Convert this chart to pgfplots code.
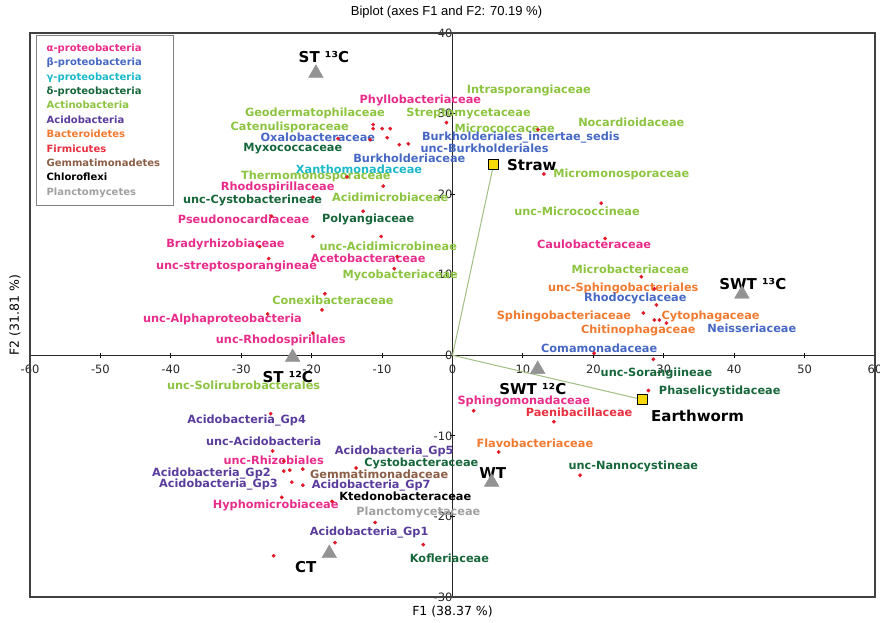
\documentclass[border=0pt]{standalone}
\usepackage{pgfplots}
\pgfplotsset{compat=1.18}
\usepackage{pgfplotstable}
\usepackage{fontspec}
\setmainfont{DejaVu Sans}
\newfontfamily\titlefont{Liberation Sans}
\definecolor{alphac}{RGB}{232,44,138}
\definecolor{betac}{RGB}{70,104,196}
\definecolor{gammac}{RGB}{28,184,200}
\definecolor{deltac}{RGB}{22,102,58}
\definecolor{actinoc}{RGB}{140,196,64}
\definecolor{acidoc}{RGB}{90,60,156}
\definecolor{bacteroc}{RGB}{242,122,48}
\definecolor{firmic}{RGB}{232,48,64}
\definecolor{gemmac}{RGB}{139,94,70}
\definecolor{planctoc}{RGB}{160,160,160}
\definecolor{dotred}{RGB}{225,25,40}
\definecolor{sqyellow}{RGB}{245,215,10}
\definecolor{linegreen}{RGB}{160,190,130}

\pgfplotstableread{
x y
-11.27 28.63
-11.27 28.13
-9.99 28.13
-8.84 28.13
-9.27 27.0
-16.26 26.88
-11.70 26.75
-7.56 26.13
-6.28 26.25
-0.86 28.88
12.13 28.0
-9.84 21.0
-14.98 22.13
-19.83 19.63
-12.70 17.88
-25.68 17.25
-10.13 14.75
-19.83 14.75
-7.85 12.25
-8.27 10.75
-26.11 12.0
-27.39 13.5
-18.12 7.63
-18.54 5.63
-26.25 5.13
-19.83 2.75
12.98 22.5
21.11 18.88
21.68 14.5
26.82 9.75
28.67 8.25
28.96 6.25
27.10 5.25
28.67 4.38
29.39 4.38
30.38 4.0
20.11 0.25
28.53 -0.5
27.82 -4.38
3.0 -6.88
14.41 -8.25
6.56 -12.0
18.12 -14.88
-25.82 -7.25
-25.53 -11.88
-23.97 -13.13
-23.97 -14.38
-23.11 -14.25
-21.26 -14.13
-13.69 -14.0
-22.82 -15.75
-21.26 -16.13
-24.25 -17.63
-17.12 -18.13
-10.98 -20.75
-16.69 -23.25
-4.14 -23.5
-25.39 -24.88
}\taxadots

\pgfplotstableread{
x y
-19.4 35.0
-22.7 -0.25
41.1 7.6
12.1 -1.75
5.56 -15.75
-17.5 -24.6
}\samples

\pgfplotstableread{
x y
5.85 23.75
26.96 -5.5
}\variables

\newcommand{\labfont}{\bfseries\fontsize{11.3}{12}\selectfont}
\newcommand{\smpfont}{\bfseries\fontsize{15}{16}\selectfont}
\newcommand{\lab}[4]{\node[text=#1, font=\labfont, inner sep=0pt] at (axis cs:#2,#3) {#4};}
\newcommand{\smp}[3]{\node[text=black, font=\smpfont, inner sep=0pt] at (axis cs:#1,#2) {#3};}

\begin{document}
\begin{tikzpicture}
\begin{axis}[
  scale only axis, width=845pt, height=564pt,
  xmin=-60, xmax=60, ymin=-30, ymax=40,
  axis lines=center,
  axis line style={-, line width=1.3pt, black!85},
  xtick={-60,-50,...,60}, ytick={-30,-20,...,40},
  hide obscured x ticks=false, hide obscured y ticks=false,
  tick align=center, major tick length=5pt,
  tick style={black, line width=0.9pt},
  tick label style={font=\fontsize{11.5}{13}\selectfont, text=black!85},
  /pgf/number format/assume math mode=true,
  xticklabel style={anchor=north, yshift=-4pt},
  yticklabel style={anchor=east, xshift=6pt},
  clip=false,
]
\coordinate (SW) at (rel axis cs:0,0);
\coordinate (NE) at (rel axis cs:1,1);
\draw[line width=1.3pt, black!75] (rel axis cs:0,0) rectangle (rel axis cs:1,1);

\addplot[color=linegreen, line width=1pt] coordinates {(0,0) (5.85,23.75)};
\addplot[color=linegreen, line width=1pt] coordinates {(0,0) (26.96,-5.5)};

\addplot[only marks, mark=*, mark size=1.7pt, color=dotred] table[x=x,y=y]{\taxadots};
\addplot[only marks, mark=triangle*, mark size=8.5pt, color=gray!85] table[x=x,y=y]{\samples};
\addplot[only marks, mark=square*, mark size=5pt, draw=black, fill=sqyellow, mark options={line width=0.8pt}] table[x=x,y=y]{\variables};

% taxa labels
\lab{alphac}{-4.56}{31.63}{Phyllobacteriaceae}
\lab{actinoc}{-19.54}{30.0}{Geodermatophilaceae}
\lab{actinoc}{2.28}{30.0}{Streptomycetaceae}
\lab{actinoc}{-23.11}{28.25}{Catenulisporaceae}
\lab{actinoc}{7.42}{28.13}{Micrococcaceae}
\lab{betac}{-19.12}{27.0}{Oxalobacteraceae}
\lab{betac}{9.70}{27.0}{Burkholderiales\_incertae\_sedis}
\lab{deltac}{-22.68}{25.63}{Myxococcaceae}
\lab{betac}{4.56}{25.75}{unc-Burkholderiales}
\lab{betac}{-6.13}{24.5}{Burkholderiaceae}
\lab{gammac}{-13.27}{23.13}{Xanthomonadaceae}
\lab{actinoc}{-19.40}{22.25}{Thermomonosporaceae}
\lab{alphac}{-24.82}{20.88}{Rhodospirillaceae}
\lab{deltac}{-28.39}{19.25}{unc-Cystobacterineae}
\lab{actinoc}{-8.84}{19.63}{Acidimicrobiaceae}
\lab{alphac}{-29.67}{16.88}{Pseudonocardiaceae}
\lab{deltac}{-11.98}{16.88}{Polyangiaceae}
\lab{alphac}{-32.24}{13.75}{Bradyrhizobiaceae}
\lab{actinoc}{-9.13}{13.5}{unc-Acidimicrobineae}
\lab{alphac}{-11.98}{12.0}{Acetobacteraceae}
\lab{alphac}{-30.67}{11.0}{unc-streptosporangineae}
\lab{actinoc}{-7.42}{9.88}{Mycobacteriaceae}
\lab{actinoc}{-16.98}{6.88}{Conexibacteraceae}
\lab{alphac}{-32.67}{4.5}{unc-Alphaproteobacteria}
\lab{alphac}{-24.39}{1.88}{unc-Rhodospirillales}
\lab{actinoc}{-29.67}{-3.75}{unc-Solirubrobacterales}
\lab{actinoc}{10.84}{32.88}{Intrasporangiaceae}
\lab{actinoc}{25.39}{28.88}{Nocardioidaceae}
\lab{actinoc}{23.97}{22.5}{Micromonosporaceae}
\lab{actinoc}{17.69}{17.88}{unc-Micrococcineae}
\lab{alphac}{20.11}{13.75}{Caulobacteraceae}
\lab{actinoc}{25.25}{10.63}{Microbacteriaceae}
\lab{bacteroc}{24.25}{8.25}{unc-Sphingobacteriales}
\lab{betac}{25.96}{7.0}{Rhodocyclaceae}
\lab{bacteroc}{15.83}{4.88}{Sphingobacteriaceae}
\lab{bacteroc}{36.66}{4.88}{Cytophagaceae}
\lab{bacteroc}{26.39}{3.13}{Chitinophagaceae}
\lab{betac}{42.51}{3.38}{Neisseriaceae}
\lab{betac}{20.83}{0.88}{Comamonadaceae}
\lab{deltac}{28.96}{-2.25}{unc-Sorangiineae}
\lab{deltac}{37.95}{-4.5}{Phaselicystidaceae}
\lab{alphac}{10.13}{-5.75}{Sphingomonadaceae}
\lab{firmic}{17.97}{-7.13}{Paenibacillaceae}
\lab{bacteroc}{11.70}{-10.88}{Flavobacteriaceae}
\lab{deltac}{25.68}{-13.75}{unc-Nannocystineae}
\lab{acidoc}{-29.24}{-8.13}{Acidobacteria\_Gp4}
\lab{acidoc}{-26.82}{-10.63}{unc-Acidobacteria}
\lab{acidoc}{-8.27}{-12.0}{Acidobacteria\_Gp5}
\lab{alphac}{-25.39}{-13.0}{unc-Rhizobiales}
\lab{deltac}{-4.42}{-13.38}{Cystobacteraceae}
\lab{acidoc}{-34.24}{-14.63}{Acidobacteria\_Gp2}
\lab{gemmac}{-10.41}{-14.75}{Gemmatimonadaceae}
\lab{acidoc}{-33.24}{-16.0}{Acidobacteria\_Gp3}
\lab{acidoc}{-11.55}{-16.13}{Acidobacteria\_Gp7}
\lab{black}{-6.70}{-17.5}{Ktedonobacteraceae}
\lab{alphac}{-25.11}{-18.63}{Hyphomicrobiaceae}
\lab{planctoc}{-4.85}{-19.5}{Planctomycetaceae}
\lab{acidoc}{-11.84}{-22.0}{Acidobacteria\_Gp1}
\lab{deltac}{-0.43}{-25.25}{Kofleriaceae}

% sample / variable labels
\smp{-18.26}{37.0}{ST ¹³C}
\smp{-23.4}{-2.75}{ST ¹²C}
\smp{42.65}{8.88}{SWT ¹³C}
\smp{11.41}{-4.25}{SWT ¹²C}
\smp{5.7}{-14.63}{WT}
\smp{-20.83}{-26.25}{CT}
\smp{11.27}{23.63}{Straw}
\smp{34.8}{-7.5}{Earthworm}

% legend
\node[draw=gray, line width=1.3pt, anchor=north west, align=left,
      font=\bfseries\fontsize{10}{14.4}\selectfont,
      text width=117pt, inner xsep=10pt, inner ysep=5pt, minimum height=170pt]
  at ([xshift=6pt,yshift=-2pt]rel axis cs:0,1) {%
  \textcolor{alphac}{α-proteobacteria}\\
  \textcolor{betac}{β-proteobacteria}\\
  \textcolor{gammac}{γ-proteobacteria}\\
  \textcolor{deltac}{δ-proteobacteria}\\
  \textcolor{actinoc}{Actinobacteria}\\
  \textcolor{acidoc}{Acidobacteria}\\
  \textcolor{bacteroc}{Bacteroidetes}\\
  \textcolor{firmic}{Firmicutes}\\
  \textcolor{gemmac}{Gemmatimonadetes}\\
  \textcolor{black}{Chloroflexi}\\
  \textcolor{planctoc}{Planctomycetes}};

% title and axis labels
\node[font=\titlefont\fontsize{13}{15}\selectfont, xshift=-6pt, yshift=21pt] at (rel axis cs:0.5,1) {Biplot (axes F1 and F2: 70.19 \%)};
\node[font=\fontsize{12.5}{14}\selectfont, yshift=-15pt] at (rel axis cs:0.5,0) {F1 (38.37 \%)};
\node[font=\fontsize{12.5}{14}\selectfont, rotate=90] at ([xshift=-15pt]rel axis cs:0,0.5) {F2 (31.81 \%)};
\end{axis}
\pgfresetboundingbox
\path[use as bounding box] ([shift={(-30pt,-26pt)}]SW) rectangle ([shift={(5pt,33pt)}]NE);
\end{tikzpicture}
\end{document}
